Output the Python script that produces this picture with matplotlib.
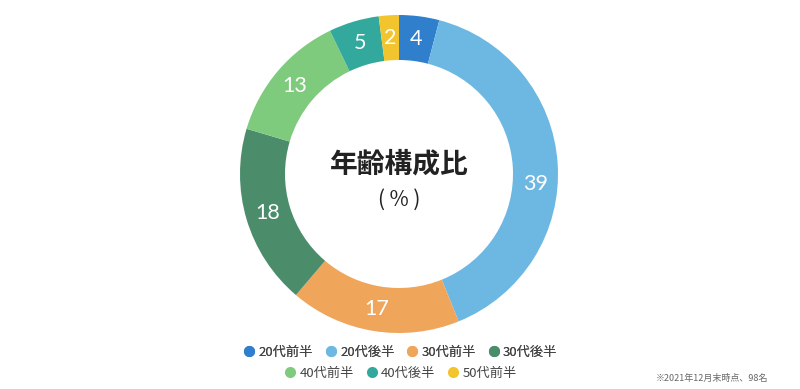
import numpy as np
import matplotlib.pyplot as plt
from matplotlib.lines import Line2D

plt.rcParams['font.family'] = ['Noto Sans CJK JP', 'DejaVu Sans']

# Data
groups = ['20代前半', '20代後半', '30代前半', '30代後半', '40代前半', '40代後半', '50代前半']
counts = [4, 39, 17, 18, 13, 5, 2]
colors = ['#2f7fcc', '#6db8e3', '#efa55a', '#4b8d6b', '#7fcb7e', '#33a99d', '#f2c42d']
title = '年齢構成比'
unit = '( % )'
note = '※2021年12月末時点、98名'

W, H = 800, 389
fig = plt.figure(figsize=(W / 100, H / 100), dpi=100)
ax = fig.add_axes([0, 0, 1, 1])

cx, cy = 399, H - 174
r_out, r_in = 159, 114

wedges, _ = ax.pie(counts, colors=colors, startangle=90, counterclock=False,
                   center=(cx, cy), radius=r_out,
                   wedgeprops=dict(width=r_out - r_in, linewidth=0), frame=True)
ax.set_xlim(0, W)
ax.set_ylim(0, H)
ax.set_aspect('equal')
ax.axis('off')

# value labels in the middle of the ring
r_lab = (r_out + r_in) / 2
nudge = {1: -8}  # the big slice's label sits a bit below its middle
for i, w in enumerate(wedges):
    ang = np.deg2rad((w.theta1 + w.theta2) / 2 + nudge.get(i, 0))
    ax.text(cx + r_lab * np.cos(ang), cy + r_lab * np.sin(ang), str(counts[i]),
            ha='center', va='center', color='white', fontsize=15.5,
            family=['Lato', 'DejaVu Sans'])

ax.text(cx, H - 164, title, ha='center', va='center', fontsize=20, fontweight='bold', color='#222222')
ax.text(cx, H - 200, unit, ha='center', va='center', fontsize=15, color='#222222')

# Legend in two rows
handles = [Line2D([], [], marker='o', linestyle='none', markersize=8,
                  markerfacecolor=c, markeredgewidth=0) for c in colors]
leg_kw = dict(loc='center', frameon=False, fontsize=9.5, handletextpad=0.2,
              columnspacing=0.85, labelcolor='#444444', handlelength=1.0)
leg1 = fig.legend(handles[:4], groups[:4], ncol=4, bbox_to_anchor=(0.5, 1 - 352 / H), **leg_kw)
leg2 = fig.legend(handles[4:], groups[4:], ncol=3, bbox_to_anchor=(0.5, 1 - 373 / H), **leg_kw)
fig.add_artist(leg1)

fig.text(768 / W, 1 - 378 / H, note, ha='right', va='center', fontsize=6.5, color='#666666')

fig.savefig('out.png', dpi=100)
